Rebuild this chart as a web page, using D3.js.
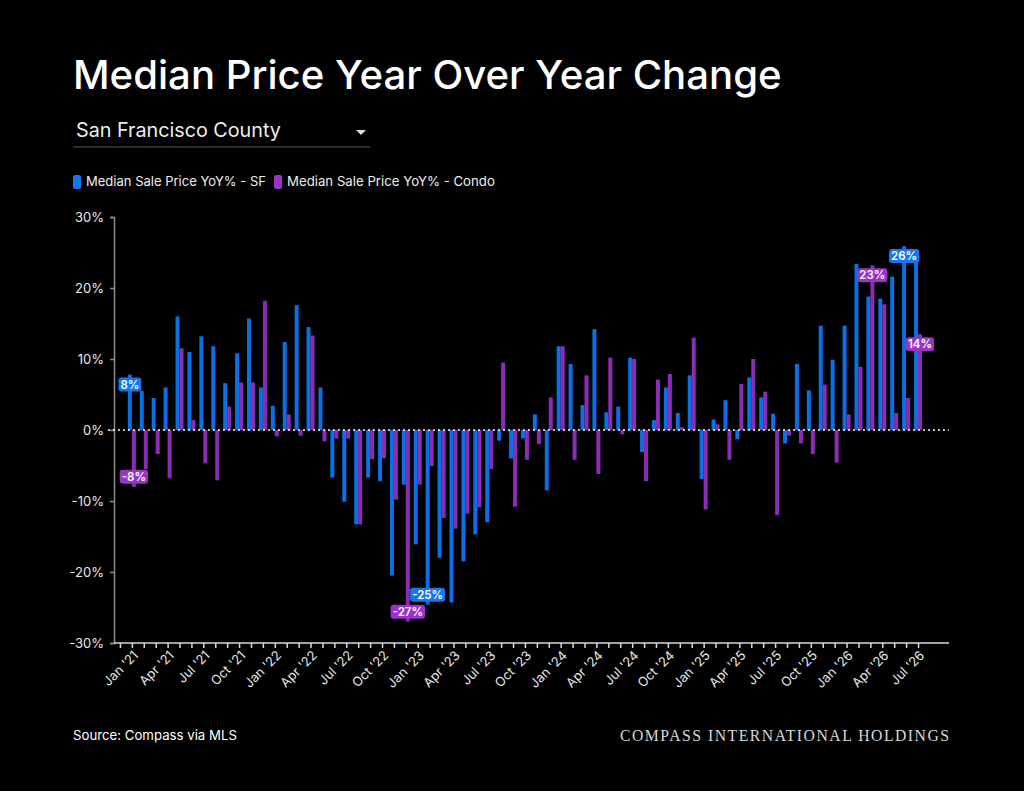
<!DOCTYPE html>
<html>
<head>
<meta charset="utf-8">
<script src="https://cdn.jsdelivr.net/npm/d3@7"></script>
<style>
  html, body { margin: 0; padding: 0; background: #000; }
  svg { display: block; }
</style>
</head>
<body>
<div id="chart"></div>
<script>
// months shown on the x axis (Jan '21 .. Jul '26)
var months = [
  "Jan '21","Feb '21","Mar '21","Apr '21","May '21","Jun '21","Jul '21","Aug '21","Sep '21","Oct '21","Nov '21","Dec '21",
  "Jan '22","Feb '22","Mar '22","Apr '22","May '22","Jun '22","Jul '22","Aug '22","Sep '22","Oct '22","Nov '22","Dec '22",
  "Jan '23","Feb '23","Mar '23","Apr '23","May '23","Jun '23","Jul '23","Aug '23","Sep '23","Oct '23","Nov '23","Dec '23",
  "Jan '24","Feb '24","Mar '24","Apr '24","May '24","Jun '24","Jul '24","Aug '24","Sep '24","Oct '24","Nov '24","Dec '24",
  "Jan '25","Feb '25","Mar '25","Apr '25","May '25","Jun '25","Jul '25","Aug '25","Sep '25","Oct '25","Nov '25","Dec '25",
  "Jan '26","Feb '26","Mar '26","Apr '26","May '26","Jun '26","Jul '26"
];

// Median Sale Price YoY% - SF
var sfValues = [
  7.8, 5.5, 4.5, 6.0, 16.0, 11.0, 13.2, 11.8, 6.6, 10.8, 15.7, 6.0,
  3.4, 12.4, 17.6, 14.5, 6.0, -6.7, -10.1, -13.3, -6.7, -7.2, -20.5, -7.7,
  -16.1, -24.6, -18.0, -24.3, -18.5, -14.7, -13.0, -1.5, -4.0, -1.2, 2.2, -8.5,
  11.8, 9.3, 3.5, 14.2, 2.5, 3.3, 10.2, -3.1, 1.4, 6.0, 2.4, 7.7,
  -6.9, 1.5, 4.2, -1.3, 7.4, 4.6, 2.3, -1.9, 9.3, 5.6, 14.7, 9.9,
  14.7, 23.4, 18.8, 18.5, 21.6, 25.9, 24.3
];

// Median Sale Price YoY% - Condo
var condoValues = [
  -8.0, -5.5, -3.4, -6.8, 11.5, 1.4, -4.7, -7.1, 3.3, 6.7, 6.7, 18.2,
  -0.9, 2.2, -0.8, 13.3, -1.6, -1.2, -1.2, -13.3, -4.1, -4.0, -9.8, -27.0,
  -7.7, -5.1, -12.4, -13.9, -11.8, -10.9, -5.5, 9.5, -10.8, -4.2, -2.0, 4.6,
  11.8, -4.2, 7.7, -6.2, 10.2, -0.6, 10.0, -7.2, 7.1, 7.9, 0.4, 13.0,
  -11.2, 0.8, -4.2, 6.5, 10.0, 5.4, -12.0, -0.8, -1.9, -3.4, 6.4, -4.6,
  2.2, 8.9, 23.2, 17.7, 2.4, 4.5, 13.5
];

// which points carry a value badge
var sfLabelIdx = [0, 25, 65];
var condoLabelIdx = [0, 23, 62, 66];

var yTicks = [-30, -20, -10, 0, 10, 20, 30];

var seriesNames = ["Median Sale Price YoY% - SF", "Median Sale Price YoY% - Condo"];

var blue = "#0b6fe6", purple = "#8b2cb4";
var blueTag = "#1477ee", purpleTag = "#9a33c6";
var font = "Inter, 'Noto Sans', sans-serif";

var W = 1024, H = 791;

var svg = d3.select("#chart").append("svg")
    .attr("width", W)
    .attr("height", H);

svg.append("rect").attr("width", W).attr("height", H).attr("fill", "#000");

// shrink/grow a text's font size so it spans the given width
function fitText(sel, width) {
    var fs = parseFloat(sel.style("font-size"));
    var len = sel.node().getComputedTextLength();
    if (len > 0) sel.style("font-size", (fs * width / len) + "px");
    return sel;
}

///////////////////////// header /////////////////////////

fitText(svg.append("text")
    .attr("x", 73).attr("y", 89)
    .style("font-family", font)
    .style("font-size", "40px")
    .style("font-weight", 500)
    .style("fill", "#fff")
    .text("Median Price Year Over Year Change"), 709);

fitText(svg.append("text")
    .attr("x", 76).attr("y", 137)
    .style("font-family", font)
    .style("font-size", "19px")
    .style("fill", "#eee")
    .text("San Francisco County"), 205);

svg.append("path")
    .attr("d", "M356,130 L366,130 L361,135 Z")
    .attr("fill", "#ddd");

svg.append("line")
    .attr("x1", 73).attr("x2", 370)
    .attr("y1", 147).attr("y2", 147)
    .attr("stroke", "#5a5a5a")
    .attr("stroke-width", 1);

// legend
var legendX = [73, 274];
var legendW = [180, 208];
[blue, purple].forEach(function(c, i) {
    svg.append("rect")
        .attr("x", legendX[i]).attr("y", 175)
        .attr("width", 8).attr("height", 14)
        .attr("rx", 2)
        .attr("fill", i == 0 ? blueTag : purpleTag);
    fitText(svg.append("text")
        .attr("x", legendX[i] + 13).attr("y", 186)
        .style("font-family", font)
        .style("font-size", "13px")
        .style("fill", "#eee")
        .text(seriesNames[i]), legendW[i]);
});

///////////////////////// scales /////////////////////////

var x = d3.scaleLinear()
    .domain([-1.5, 68.6])
    .range([114, 949]);

var y = d3.scaleLinear()
    .domain([-30, 30])
    .range([643, 217]);

var barW = 4;

///////////////////////// axes /////////////////////////

// y axis
var yAxis = svg.append("g")
    .attr("transform", "translate(114,0)")
    .call(d3.axisLeft(y).tickValues(yTicks).tickSize(4).tickPadding(6)
        .tickFormat(function(d) { return d + "%"; }));
yAxis.select(".domain").attr("stroke", "#8c8c8c").attr("stroke-width", 1.5);
yAxis.selectAll(".tick line").attr("stroke", "#8c8c8c").attr("stroke-width", 1.5);
yAxis.selectAll(".tick text")
    .style("font-family", font)
    .style("font-size", "13px")
    .style("fill", "#e8e8e8");

// x axis: a tick every month, a label every quarter
var tickIdx = d3.range(-1, months.length);
var xAxis = svg.append("g")
    .attr("transform", "translate(0,643)")
    .call(d3.axisBottom(x).tickValues(tickIdx).tickSize(5).tickFormat(""));
xAxis.select(".domain").attr("stroke", "#d8d8d8").attr("stroke-width", 1.5)
    .attr("d", "M114,0H949");
xAxis.selectAll(".tick line").attr("stroke", "#d8d8d8").attr("stroke-width", 1.5);

svg.append("g")
    .selectAll("text")
    .data(months.map(function(m, i) { return {m: m, i: i}; })
        .filter(function(d) { return d.i % 3 == 0; }))
    .join("text")
    .attr("transform", function(d) { return "translate(" + (x(d.i) + 4) + ",653) rotate(-45)"; })
    .attr("text-anchor", "end")
    .attr("dy", "0.35em")
    .style("font-family", font)
    .style("font-size", "13px")
    .style("fill", "#e8e8e8")
    .text(function(d) { return d.m; });

///////////////////////// bars /////////////////////////

function drawBars(values, color, offset) {
    svg.append("g")
        .attr("fill", color)
        .selectAll("rect")
        .data(values)
        .join("rect")
        .attr("x", function(d, i) { return x(i) + offset; })
        .attr("y", function(d) { return y(Math.max(0, d)); })
        .attr("width", barW)
        .attr("height", function(d) { return Math.abs(y(d) - y(0)); });
}
drawBars(sfValues, blue, -barW);
drawBars(condoValues, purple, 0);

// zero line
svg.append("line")
    .attr("x1", 108).attr("x2", 949)
    .attr("y1", y(0)).attr("y2", y(0))
    .attr("stroke", "#fff")
    .attr("stroke-width", 1.6)
    .attr("stroke-dasharray", "2,3");

///////////////////////// value badges /////////////////////////

function drawTags(values, idx, color, offset) {
    idx.forEach(function(i) {
        var v = values[i];
        var cx = x(i) + offset + barW / 2;
        var cy = y(v) + (v >= 0 ? 10 : -10);
        var g = svg.append("g");
        var t = g.append("text")
            .attr("x", cx).attr("y", cy)
            .attr("text-anchor", "middle")
            .attr("dy", "0.36em")
            .style("font-family", font)
            .style("font-size", "11.5px")
            .style("font-weight", 600)
            .style("fill", "#fff")
            .text(Math.round(v) + "%");
        var w = t.node().getComputedTextLength() + 4;
        g.insert("rect", "text")
            .attr("x", cx - w / 2).attr("y", cy - 7)
            .attr("width", w).attr("height", 14)
            .attr("rx", 3)
            .attr("fill", color);
    });
}
drawTags(sfValues, sfLabelIdx, blueTag, -barW);
drawTags(condoValues, condoLabelIdx, purpleTag, 0);

///////////////////////// footer /////////////////////////

fitText(svg.append("text")
    .attr("x", 73).attr("y", 740)
    .style("font-family", font)
    .style("font-size", "13px")
    .style("fill", "#fff")
    .text("Source: Compass via MLS"), 164);

fitText(svg.append("text")
    .attr("x", 620).attr("y", 741)
    .style("font-family", "'Liberation Serif', serif")
    .style("font-size", "15px")
    .style("letter-spacing", "1.5px")
    .style("fill", "#d8d8d8")
    .text("COMPASS INTERNATIONAL HOLDINGS"), 333);
</script>
</body>
</html>
